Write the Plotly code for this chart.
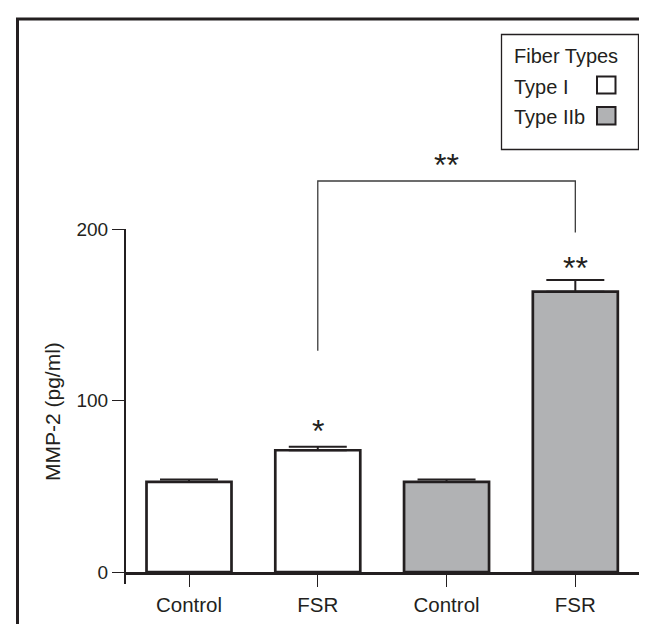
import plotly.graph_objects as go

# ---- data ----
categories = ["Control", "FSR", "Control", "FSR"]
fiber_type = ["Type I", "Type I", "Type IIb", "Type IIb"]
mmp2_values = [52.5, 71, 52.5, 163.5]
mmp2_errors = [1.5, 2, 1.5, 6.8]
y_ticks = [0, 100, 200]
bracket_levels = [129, 228, 198]   # left foot, top, right foot
star_labels = ["*", "**", "**"]
star_x = [1, 3, 2]
star_y = [82, 177.5, 237.5]

# ---- layout geometry (pixels) ----
W, H = 647, 624
L, R, T, B = 117, 14, 12, 60
PW, PH = W - L - R, H - T - B
YMAX = 321.9
INK = "#231f20"
GRAY = "#b1b2b4"
FONT = "Liberation Sans, Arial, Helvetica, sans-serif"

def px(xp):
    return (xp - L) / PW

def py(yp):
    return (H - B - yp) / PH

x_pos = list(range(len(categories)))
colors = ["white" if f == "Type I" else GRAY for f in fiber_type]

fig = go.Figure()
for ft in ["Type I", "Type IIb"]:
    idx = [i for i, f in enumerate(fiber_type) if f == ft]
    fig.add_trace(go.Bar(
        x=[x_pos[i] for i in idx],
        y=[mmp2_values[i] for i in idx],
        name=ft,
        width=0.66,
        marker=dict(color=[colors[i] for i in idx], line=dict(color=INK, width=2.7)),
        error_y=dict(type="data", symmetric=False,
                     array=[mmp2_errors[i] for i in idx],
                     arrayminus=[0 for _ in idx],
                     color=INK, thickness=2, width=29),
        showlegend=False,
    ))

shapes = []
# outer frame (right/bottom edges fall outside the picture)
shapes.append(dict(type="rect", xref="paper", yref="paper",
                   x0=px(9.5), x1=px(665), y0=py(645), y1=py(11),
                   line=dict(color=INK, width=3), fillcolor="rgba(0,0,0,0)"))
# y axis line (0 .. 200 plus small overhang below)
shapes.append(dict(type="line", xref="paper", yref="paper",
                   x0=0, x1=0, y0=py(576), y1=y_ticks[-1] / YMAX,
                   line=dict(color=INK, width=2)))
# significance bracket
shapes.append(dict(type="path", xref="x", yref="y",
                   path=f"M 1 {bracket_levels[0]} L 1 {bracket_levels[1]} L 3 {bracket_levels[1]} L 3 {bracket_levels[2]}",
                   line=dict(color="#3c3c3c", width=1.3)))
# legend box and swatches
shapes.append(dict(type="rect", xref="paper", yref="paper",
                   x0=px(493.5), x1=px(630.5), y0=py(141.5), y1=py(26.5),
                   line=dict(color=INK, width=1.3), fillcolor="white"))
shapes.append(dict(type="rect", xref="paper", yref="paper",
                   x0=px(589), x1=px(607.5), y0=py(85.5), y1=py(68.5),
                   line=dict(color=INK, width=2), fillcolor="white"))
shapes.append(dict(type="rect", xref="paper", yref="paper",
                   x0=px(589), x1=px(607.5), y0=py(116.5), y1=py(99),
                   line=dict(color=INK, width=2), fillcolor=GRAY))

annotations = []
for s, xx, yy in zip(star_labels, star_x, star_y):
    annotations.append(dict(x=xx, y=yy, xref="x", yref="y", text=s, showarrow=False,
                            font=dict(size=32, color=INK, family=FONT),
                            xanchor="center", yanchor="middle"))
annotations.append(dict(x=px(44), y=py(404), xref="paper", yref="paper",
                        text="MMP-2 (pg/ml)", textangle=-90, showarrow=False,
                        font=dict(size=21, color=INK, family=FONT),
                        xanchor="center", yanchor="middle"))
for txt, yp in [("Fiber Types", 48), ("Type I", 78.5), ("Type IIb", 109)]:
    annotations.append(dict(x=px(504), y=py(yp), xref="paper", yref="paper",
                            text=txt, showarrow=False,
                            font=dict(size=20, color=INK, family=FONT),
                            xanchor="left", yanchor="middle"))

fig.update_layout(
    width=W, height=H,
    margin=dict(l=L, r=R, t=T, b=B),
    paper_bgcolor="white", plot_bgcolor="white",
    font=dict(family=FONT, color=INK, size=19),
    barmode="overlay",
    shapes=shapes,
    annotations=annotations,
    xaxis=dict(range=[-0.497, 3.51], tickmode="array", tickvals=x_pos, ticktext=categories,
               showline=True, linecolor=INK, linewidth=2.8,
               ticks="outside", ticklen=12, tickwidth=1.3, tickcolor=INK,
               showgrid=False, zeroline=False, fixedrange=True,
               tickfont=dict(size=20.5, color=INK, family=FONT)),
    yaxis=dict(range=[0, YMAX], tickmode="array", tickvals=y_ticks,
               showline=False, ticks="outside", ticklen=12, tickwidth=1.3, tickcolor=INK,
               showgrid=False, zeroline=False, fixedrange=True,
               tickfont=dict(size=19, color=INK, family=FONT)),
)

fig.write_html("out.html")
